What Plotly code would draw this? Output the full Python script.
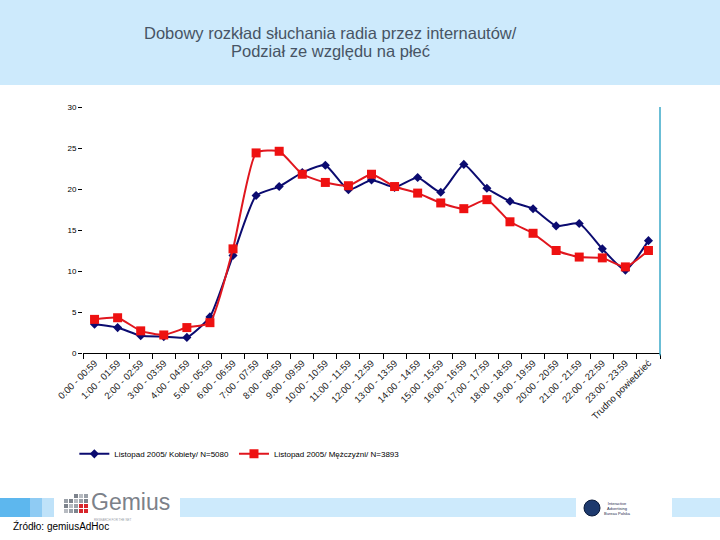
import plotly.graph_objects as go

categories = ["0:00 - 00:59", "1:00 - 01:59", "2:00 - 02:59", "3:00 - 03:59", "4:00 - 04:59",
              "5:00 - 05:59", "6:00 - 06:59", "7:00 - 07:59", "8:00 - 08:59", "9:00 - 09:59",
              "10:00 - 10:59", "11:00 - 11:59", "12:00 - 12:59", "13:00 - 13:59", "14:00 - 14:59",
              "15:00 - 15:59", "16:00 - 16:59", "17:00 - 17:59", "18:00 - 18:59", "19:00 - 19:59",
              "20:00 - 20:59", "21:00 - 21:59", "22:00 - 22:59", "23:00 - 23:59", "Trudno powiedzieć"]

kobiety = [3.5, 3.1, 2.1, 2.0, 1.9, 4.4, 11.9, 19.2, 20.3, 22.0, 22.9, 19.9, 21.1, 20.2, 21.4,
           19.6, 23.0, 20.1, 18.5, 17.6, 15.5, 15.8, 12.7, 10.1, 13.7]
mezczyzni = [4.1, 4.3, 2.7, 2.2, 3.1, 3.7, 12.7, 24.4, 24.6, 21.8, 20.8, 20.4, 21.8, 20.3, 19.5,
             18.3, 17.6, 18.7, 16.0, 14.6, 12.5, 11.7, 11.6, 10.5, 12.5]

name_k = "Listopad 2005/ Kobiety/ N=5080"
name_m = "Listopad 2005/ Mężczyźni/ N=3893"
y_ticks = [0, 5, 10, 15, 20, 25, 30]

FONT = "Liberation Sans, Arial"

fig = go.Figure()
fig.add_trace(go.Scatter(x=categories, y=kobiety, name=name_k, mode="lines+markers",
                         line=dict(color="#0b0b70", width=2, shape="spline", smoothing=0.5),
                         marker=dict(symbol="diamond", size=7, color="#0b0b70")))
fig.add_trace(go.Scatter(x=categories, y=mezczyzni, name=name_m, mode="lines+markers",
                         line=dict(color="#e0161e", width=2, shape="spline", smoothing=0.5),
                         marker=dict(symbol="square", size=9, color="#ee1111")))


def px_rect(x0, y0, x1, y1, color):
    return dict(type="rect", xref="paper", yref="paper",
                x0=(x0 - 83) / 577, x1=(x1 - 83) / 577,
                y0=(353 - y1) / 246, y1=(353 - y0) / 246,
                fillcolor=color, line=dict(width=0), layer="below")


shapes = [px_rect(0, 0, 720, 85, "#cdeafc"),
          px_rect(0, 498, 30, 517, "#5db7ee"),
          px_rect(30, 498, 42, 517, "#8fcbf3"),
          px_rect(42, 498, 54, 517, "#bfe2f9"),
          px_rect(180, 498, 576, 517, "#cdeafc"),
          px_rect(672, 498, 720, 517, "#cdeafc")]
# Gemius logo grid
grid_colors = ["#b8bcc2", "#9aa0a8", "#7d838c"]
for r in range(4):
    for c in range(5):
        col = grid_colors[(r + c) % 3]
        if (r, c) in [(2, 3), (3, 3), (2, 4), (3, 4)]:
            col = "#d8252b"
        if r == 0 and c < 2:
            continue
        x0 = 64 + c * 5
        y0 = 494 + r * 5
        shapes.append(px_rect(x0, y0, x0 + 4, y0 + 4, col))
# IAB circle
shapes.append(dict(type="circle", xref="paper", yref="paper",
                   x0=(584 - 83) / 577, x1=(600 - 83) / 577,
                   y0=(353 - 516) / 246, y1=(353 - 500) / 246,
                   fillcolor="#1e3a6e", line=dict(color="#0a1a3a", width=1)))
# right border line
shapes.append(dict(type="line", xref="paper", yref="paper", x0=1, x1=1,
                   y0=-0.01, y1=1.0, line=dict(color="#3aa9c9", width=1.5)))


def ann(x, y, text, size, color="#000000", xanchor="center"):
    return dict(x=(x - 83) / 577, y=(353 - y) / 246, xref="paper", yref="paper",
                text=text, showarrow=False, xanchor=xanchor, yanchor="middle",
                font=dict(size=size, color=color, family=FONT))


annotations = [
    ann(330, 33, "Dobowy rozkład słuchania radia przez internautów/", 16.5, "#475464"),
    ann(330, 51, "Podział ze względu na płeć", 16.5, "#475464"),
    ann(89, 502, "Gemius", 23, "#7c8189", xanchor="left"),
    ann(92, 520, "RESEARCH FOR THE NET", 3, "#9aa0a8", xanchor="left"),
    ann(11, 526, "Źródło: gemiusAdHoc", 10, "#000000", xanchor="left"),
    ann(602, 508, "Interactive<br>Advertising<br>Bureau Polska", 4, "#1e2a4a", xanchor="left"),
]

fig.update_layout(
    width=720, height=540,
    margin=dict(l=83, r=60, t=107, b=187),
    paper_bgcolor="white", plot_bgcolor="white",
    shapes=shapes, annotations=annotations,
    showlegend=True,
    legend=dict(orientation="h", x=-0.015, y=-0.41, xanchor="left", yanchor="middle",
                font=dict(size=8, family=FONT, color="#000000"),
                itemwidth=30, tracegroupgap=0),
    xaxis=dict(type="category", range=[-0.5, 24.5], showline=True, linecolor="#000000",
               linewidth=1, ticks="outside", tickson="boundaries", ticklen=5,
               tickcolor="#000000", tickangle=-45, showgrid=False,
               tickfont=dict(size=9.5, family=FONT, color="#1a1a1a")),
    yaxis=dict(range=[0, 30], tickvals=y_ticks, showline=False, ticks="outside",
               ticklen=4, tickcolor="#000000", showgrid=False, zeroline=False,
               tickfont=dict(size=8, family=FONT, color="#000000")),
)

fig.write_html("out.html")
